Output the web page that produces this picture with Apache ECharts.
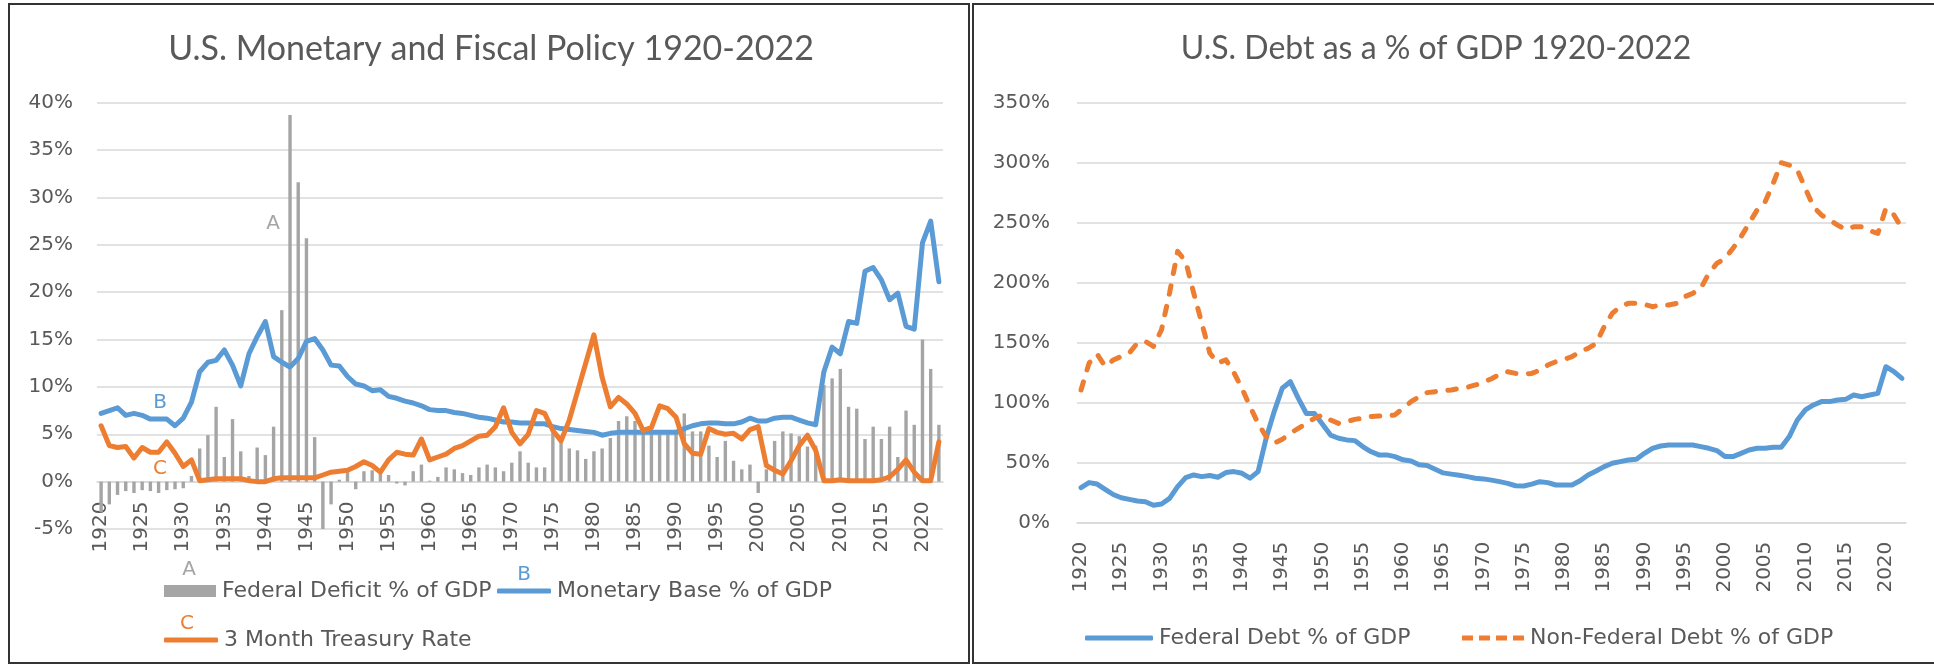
<!DOCTYPE html>
<html>
<head>
<meta charset="utf-8">
<title>U.S. Monetary and Fiscal Policy / U.S. Debt 1920-2022</title>
<script src="https://cdn.jsdelivr.net/npm/echarts@6/dist/echarts.min.js"></script>
<style>
  html, body { margin: 0; padding: 0; background: #fff; }
  #myDebtChart { width: 1934px; height: 671px; }
</style>
</head>
<body>
<div id="myDebtChart"></div>
<script>
// categories
const years = [
  1920, 1921, 1922, 1923, 1924, 1925, 1926, 1927, 1928, 1929,
  1930, 1931, 1932, 1933, 1934, 1935, 1936, 1937, 1938, 1939,
  1940, 1941, 1942, 1943, 1944, 1945, 1946, 1947, 1948, 1949,
  1950, 1951, 1952, 1953, 1954, 1955, 1956, 1957, 1958, 1959,
  1960, 1961, 1962, 1963, 1964, 1965, 1966, 1967, 1968, 1969,
  1970, 1971, 1972, 1973, 1974, 1975, 1976, 1977, 1978, 1979,
  1980, 1981, 1982, 1983, 1984, 1985, 1986, 1987, 1988, 1989,
  1990, 1991, 1992, 1993, 1994, 1995, 1996, 1997, 1998, 1999,
  2000, 2001, 2002, 2003, 2004, 2005, 2006, 2007, 2008, 2009,
  2010, 2011, 2012, 2013, 2014, 2015, 2016, 2017, 2018, 2019,
  2020, 2021, 2022
]

// left chart (values in %)
const federalDeficit = [
  -3.2, -2.4, -1.4, -1.0, -1.2, -0.9, -1.0, -1.2, -0.9, -0.8,
  -0.7, 0.6, 3.5, 4.9, 7.9, 2.6, 6.6, 3.2, 0.6, 3.6,
  2.8, 5.8, 18.1, 38.7, 31.6, 25.7, 4.7, -5.0, -2.4, 0.2,
  1.0, -0.8, 1.1, 1.2, 0.9, 0.7, -0.2, -0.4, 1.1, 1.8,
  0.1, 0.5, 1.5, 1.3, 0.9, 0.7, 1.5, 1.8, 1.5, 1.1,
  2.0, 3.2, 2.0, 1.5, 1.5, 5.4, 4.6, 3.5, 3.3, 2.4,
  3.2, 3.5, 4.6, 6.4, 6.9, 6.4, 5.2, 5.3, 5.3, 5.3,
  5.4, 7.2, 5.3, 5.3, 3.8, 2.6, 4.3, 2.2, 1.3, 1.8,
  -1.2, 1.3, 4.3, 5.3, 5.1, 4.8, 3.7, 3.8, 10.2, 10.9,
  11.9, 7.9, 7.7, 4.5, 5.8, 4.5, 5.8, 2.6, 7.5, 6.0,
  15.0, 11.9, 6.0
]
const monetaryBase = [
  7.2, 7.5, 7.8, 7.0, 7.2, 7.0, 6.6, 6.6, 6.6, 5.9,
  6.7, 8.4, 11.6, 12.6, 12.8, 13.9, 12.3, 10.1, 13.5, 15.3,
  16.9, 13.2, 12.6, 12.1, 13.0, 14.8, 15.1, 13.9, 12.3, 12.2,
  11.1, 10.3, 10.1, 9.6, 9.7, 9.0, 8.8, 8.5, 8.3, 8.0,
  7.6, 7.5, 7.5, 7.3, 7.2, 7.0, 6.8, 6.7, 6.5, 6.3,
  6.3, 6.2, 6.2, 6.1, 6.1, 5.8, 5.6, 5.5, 5.4, 5.3,
  5.2, 4.9, 5.1, 5.2, 5.2, 5.2, 5.2, 5.2, 5.2, 5.2,
  5.2, 5.6, 5.9, 6.1, 6.2, 6.2, 6.1, 6.1, 6.3, 6.7,
  6.4, 6.4, 6.7, 6.8, 6.8, 6.5, 6.2, 6.0, 11.6, 14.2,
  13.5, 16.9, 16.7, 22.2, 22.6, 21.3, 19.2, 19.9, 16.4, 16.1,
  25.2, 27.5, 21.1
]
const treasuryRate = [
  5.9, 3.8, 3.6, 3.7, 2.5, 3.6, 3.1, 3.1, 4.2, 3.0,
  1.6, 2.3, 0.1, 0.2, 0.3, 0.3, 0.3, 0.3, 0.1, 0.0,
  0.0, 0.3, 0.4, 0.4, 0.4, 0.4, 0.4, 0.7, 1.0, 1.1,
  1.2, 1.6, 2.1, 1.7, 1.0, 2.3, 3.1, 2.9, 2.8, 4.5,
  2.3, 2.6, 2.9, 3.5, 3.8, 4.3, 4.8, 4.9, 5.8, 7.8,
  5.2, 4.0, 5.0, 7.5, 7.2, 5.4, 4.3, 6.5, 9.5, 12.5,
  15.5, 11.0, 7.9, 8.9, 8.2, 7.2, 5.4, 5.7, 8.0, 7.7,
  6.8, 4.0, 3.0, 2.9, 5.6, 5.2, 5.0, 5.1, 4.5, 5.5,
  5.8, 1.7, 1.2, 0.8, 2.2, 3.8, 4.9, 3.3, 0.1, 0.1,
  0.2, 0.1, 0.1, 0.1, 0.1, 0.2, 0.5, 1.3, 2.3, 1.0,
  0.1, 0.1, 4.2
]

// right chart (values in %)
const federalDebt = [
  29.2, 33.4, 32.2, 27.8, 23.5, 20.8, 19.4, 18.1, 17.5, 14.5,
  15.6, 20.3, 30.1, 37.6, 39.8, 38.4, 39.3, 37.9, 41.8, 42.6,
  41.2, 37.1, 42.6, 70.4, 92.6, 112.0, 117.5, 103.6, 91.0, 91.0,
  82.0, 73.0, 70.4, 69.0, 68.4, 63.4, 59.3, 56.5, 56.5, 55.1,
  52.4, 51.5, 48.2, 47.6, 44.6, 41.5, 40.5, 39.5, 38.4, 37.1,
  36.5, 35.5, 34.2, 32.8, 30.8, 30.6, 32.2, 34.2, 33.4, 31.4,
  31.4, 31.4, 35.0, 39.8, 43.1, 46.7, 49.5, 50.9, 52.3, 52.8,
  57.8, 62.0, 63.9, 64.8, 64.8, 64.8, 64.8, 63.4, 62.0, 60.1,
  55.1, 55.1, 57.8, 60.6, 62.0, 62.0, 62.9, 62.9, 71.8, 85.6,
  94.0, 98.1, 100.9, 100.9, 102.3, 102.8, 106.4, 105.0, 106.4, 107.8,
  130.0, 125.9, 120.3
]
const nonFederalDebt = [
  110.6, 133.0, 140.5, 130.3, 135.5, 138.6, 141.4, 149.7, 151.1, 146.9,
  160.8, 191.4, 226.1, 217.8, 191.4, 166.4, 141.4, 133.0, 135.8, 125.0,
  111.9, 96.7, 82.8, 71.7, 66.2, 69.5, 74.5, 78.7, 82.8, 87.0,
  89.8, 85.6, 82.8, 84.2, 86.1, 87.0, 88.4, 88.9, 88.9, 89.8,
  95.3, 100.9, 105.0, 108.4, 109.2, 110.0, 110.6, 112.0, 112.8, 114.8,
  117.0, 120.0, 123.6, 125.8, 124.4, 123.9, 124.4, 127.2, 131.4, 134.2,
  136.1, 138.3, 142.5, 145.3, 149.4, 163.3, 174.4, 180.0, 182.8, 182.8,
  181.9, 180.0, 181.4, 181.4, 182.8, 188.3, 191.1, 195.3, 207.8, 216.1,
  220.3, 228.6, 238.3, 249.4, 260.6, 267.5, 282.8, 300.0, 298.0, 293.9,
  278.6, 263.3, 256.4, 252.2, 248.0, 244.4, 246.6, 246.6, 243.3, 241.1,
  261.9, 256.4, 245.3
]

const textColor = '#595959'
const gridColor = '#D9D9D9'
const labelFont = 'DejaVu Sans'
const gray = '#A5A5A5'
const blue = '#5B9BD5'
const orange = '#ED7D31'

let myChart = echarts.init(document.getElementById('myDebtChart'))

function letter (text, x, y, color) {
  return {
    text: text,
    left: x,
    top: y,
    padding: 0,
    textAlign: 'center',
    textVerticalAlign: 'middle',
    textStyle: { color: color, fontFamily: labelFont, fontSize: 20, fontWeight: 'normal' }
  }
}

function legendItem (name, x, y, w, h, icon) {
  return {
    data: [name],
    left: x,
    top: y,
    padding: 0,
    itemWidth: w,
    itemHeight: h,
    itemGap: 0,
    icon: icon,
    selectedMode: false,
    itemStyle: { borderWidth: 0 },
    textStyle: { color: textColor, fontFamily: labelFont, fontSize: 22, padding: [0, 0, 0, 1] }
  }
}

const yLabel = {
  color: textColor,
  fontFamily: labelFont,
  fontSize: 20,
  formatter: '{value}%'
}

myChart.setOption({
  animation: false,
  backgroundColor: '#fff',
  title: [
    {
      text: 'U.S. Monetary and Fiscal Policy 1920-2022',
      left: 491,
      top: 49,
      padding: 0,
      textAlign: 'center',
      textVerticalAlign: 'middle',
      textStyle: { color: textColor, fontFamily: 'Lato', fontSize: 34, fontWeight: 'normal' }
    },
    {
      text: 'U.S. Debt as a % of GDP 1920-2022',
      left: 1436,
      top: 49,
      padding: 0,
      textAlign: 'center',
      textVerticalAlign: 'middle',
      textStyle: { color: textColor, fontFamily: 'Lato', fontSize: 32, fontWeight: 'normal' }
    },
    letter('A', 273, 224, gray),
    letter('B', 160, 403, blue),
    letter('C', 160, 469, orange),
    letter('A', 189, 570, gray),
    letter('B', 524, 575, blue),
    letter('C', 187, 624, orange)
  ],
  legend: [
    legendItem('Federal Deficit % of GDP', 164, 580, 52, 12, 'rect'),
    legendItem('Monetary Base % of GDP', 497, 580, 54, 5, 'roundRect'),
    legendItem('3 Month Treasury Rate', 164, 629, 54, 5, 'roundRect'),
    legendItem('Federal Debt % of GDP', 1085, 627, 68, 5, 'roundRect'),
    legendItem('Non-Federal Debt % of GDP', 1462, 627, 62, 5,
      'path://M0,0h11v5h-11z M17,0h11v5h-11z M34,0h11v5h-11z M51,0h11v5h-11z')
  ],
  graphic: [
    {
      type: 'rect',
      shape: { x: 9, y: 4, width: 960, height: 659 },
      style: { fill: null, stroke: '#333', lineWidth: 2 },
      silent: true
    },
    {
      type: 'rect',
      shape: { x: 973, y: 4, width: 970, height: 659 },
      style: { fill: null, stroke: '#333', lineWidth: 2 },
      silent: true
    }
  ],
  grid: [
    { left: 97, right: 991, top: 102.7, bottom: 142 },
    { left: 1077, right: 28, top: 102.7, bottom: 148.3 }
  ],
  xAxis: [
    {
      type: 'category',
      gridIndex: 0,
      data: years,
      boundaryGap: true,
      // axis sits on the 0% line, labels hang just below it
      offset: -47.4,
      axisLine: { onZero: false, lineStyle: { color: gridColor, width: 1.5 } },
      axisTick: { show: false },
      axisLabel: { interval: 4, rotate: 90, margin: 20, color: textColor, fontFamily: labelFont, fontSize: 20 }
    },
    {
      type: 'category',
      gridIndex: 1,
      data: years,
      boundaryGap: true,
      axisLine: { lineStyle: { color: gridColor, width: 1.5 } },
      axisTick: { show: false },
      axisLabel: { interval: 4, rotate: 90, margin: 19, color: textColor, fontFamily: labelFont, fontSize: 20 }
    }
  ],
  yAxis: [
    {
      type: 'value',
      gridIndex: 0,
      min: -5,
      max: 40,
      interval: 5,
      axisLine: { show: false },
      axisTick: { show: false },
      splitLine: { lineStyle: { color: gridColor, width: 1.5 } },
      axisLabel: Object.assign({ margin: 24 }, yLabel)
    },
    {
      type: 'value',
      gridIndex: 1,
      min: 0,
      max: 350,
      interval: 50,
      axisLine: { show: false },
      axisTick: { show: false },
      splitLine: { lineStyle: { color: gridColor, width: 1.5 } },
      axisLabel: Object.assign({ margin: 27 }, yLabel)
    }
  ],
  series: [
    {
      name: 'Federal Deficit % of GDP',
      type: 'bar',
      xAxisIndex: 0,
      yAxisIndex: 0,
      color: gray,
      barWidth: 3.4,
      data: federalDeficit
    },
    {
      name: 'Monetary Base % of GDP',
      type: 'line',
      xAxisIndex: 0,
      yAxisIndex: 0,
      color: blue,
      symbol: 'none',
      lineStyle: { width: 5, cap: 'round', join: 'round' },
      data: monetaryBase
    },
    {
      name: '3 Month Treasury Rate',
      type: 'line',
      xAxisIndex: 0,
      yAxisIndex: 0,
      color: orange,
      symbol: 'none',
      lineStyle: { width: 5, cap: 'round', join: 'round' },
      data: treasuryRate
    },
    {
      name: 'Federal Debt % of GDP',
      type: 'line',
      xAxisIndex: 1,
      yAxisIndex: 1,
      color: blue,
      symbol: 'none',
      lineStyle: { width: 5, cap: 'round', join: 'round' },
      data: federalDebt
    },
    {
      name: 'Non-Federal Debt % of GDP',
      type: 'line',
      xAxisIndex: 1,
      yAxisIndex: 1,
      color: orange,
      symbol: 'none',
      lineStyle: { width: 5, type: [8.5, 12.5], cap: 'round', join: 'round' },
      data: nonFederalDebt
    }
  ]
})
</script>
</body>
</html>
